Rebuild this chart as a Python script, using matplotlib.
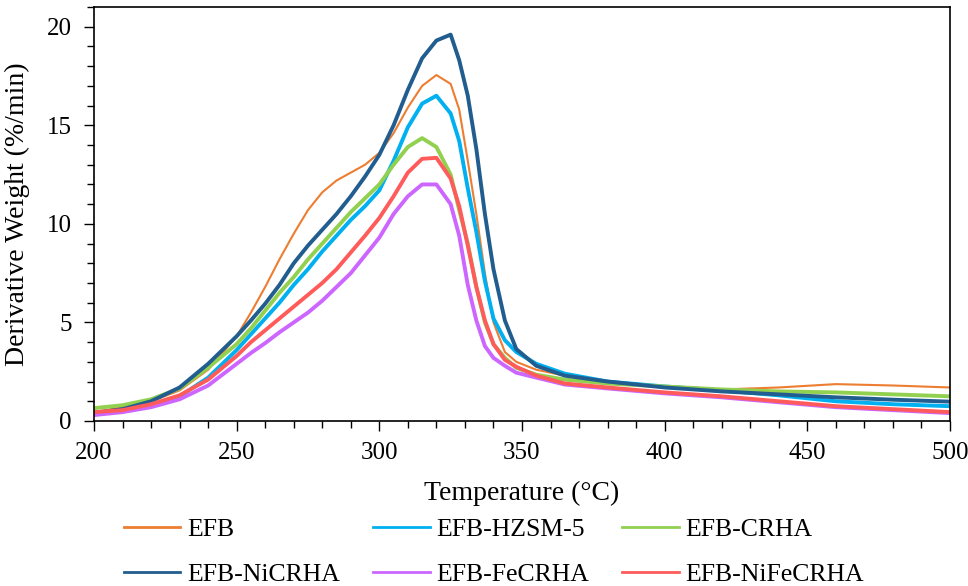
import matplotlib
matplotlib.use('Agg')
from matplotlib import pyplot as plt
from matplotlib.ticker import MultipleLocator

plt.rcParams['font.family'] = ['Liberation Serif', 'DejaVu Serif']

temp = [200, 210, 220, 230, 240, 250, 255, 260, 265, 270, 275, 280, 285, 290, 295, 300, 305, 310, 315, 320,
        325, 328, 331, 334, 337, 340, 344, 348, 355, 365, 380, 400, 420, 440, 460, 480, 500]

# derivative weight (%/min)
efb = [0.45, 0.7, 1.0, 1.55, 2.6, 4.3, 5.5, 6.8, 8.2, 9.5, 10.7, 11.6, 12.2, 12.6, 13.0, 13.6, 14.6, 15.9, 17.0, 17.55,
       17.1, 15.8, 13.2, 10.5, 7.5, 5.0, 3.5, 3.0, 2.6, 2.3, 2.0, 1.75, 1.6, 1.7, 1.87, 1.8, 1.7]
efb_hzsm5 = [0.35, 0.5, 0.8, 1.25, 2.2, 3.6, 4.4, 5.2, 6.0, 6.9, 7.7, 8.6, 9.4, 10.2, 10.9, 11.7, 13.2, 14.9, 16.1, 16.5,
             15.6, 14.2, 11.8, 9.6, 7.1, 5.2, 4.1, 3.5, 2.9, 2.4, 2.0, 1.75, 1.55, 1.3, 1.0, 0.85, 0.75]
efb_crha = [0.65, 0.8, 1.1, 1.65, 2.7, 3.9, 4.7, 5.6, 6.5, 7.3, 8.2, 9.0, 9.8, 10.6, 11.3, 12.0, 13.0, 13.9, 14.35, 13.9,
            12.5, 10.7, 9.0, 6.8, 5.0, 3.9, 3.2, 2.7, 2.35, 2.1, 1.9, 1.75, 1.6, 1.5, 1.45, 1.35, 1.25]
efb_nicrha = [0.4, 0.6, 1.0, 1.7, 2.9, 4.3, 5.1, 5.95, 6.9, 8.0, 8.9, 9.7, 10.5, 11.4, 12.4, 13.5, 15.0, 16.8, 18.4, 19.3,
              19.6, 18.3, 16.5, 13.8, 10.5, 7.7, 5.1, 3.65, 2.8, 2.3, 2.0, 1.7, 1.5, 1.35, 1.2, 1.08, 0.98]
efb_fecrha = [0.3, 0.45, 0.7, 1.1, 1.8, 2.9, 3.45, 3.95, 4.5, 5.0, 5.5, 6.1, 6.8, 7.5, 8.4, 9.3, 10.5, 11.4, 12.0, 12.0,
              11.0, 9.4, 6.9, 5.1, 3.8, 3.2, 2.8, 2.45, 2.2, 1.85, 1.65, 1.4, 1.2, 0.95, 0.7, 0.55, 0.4]
efb_nifecrha = [0.45, 0.55, 0.85, 1.3, 2.1, 3.3, 4.0, 4.6, 5.2, 5.8, 6.4, 7.0, 7.7, 8.55, 9.4, 10.3, 11.4, 12.6, 13.3, 13.35,
                12.3, 10.9, 8.9, 6.8, 5.1, 3.9, 3.1, 2.75, 2.3, 1.9, 1.7, 1.45, 1.25, 1.0, 0.75, 0.6, 0.45]

series = [
    ('EFB', efb, '#ED7D31', 1.5),
    ('EFB-HZSM-5', efb_hzsm5, '#00B0F0', 2.8),
    ('EFB-CRHA', efb_crha, '#92D050', 2.8),
    ('EFB-NiCRHA', efb_nicrha, '#215D8F', 2.8),
    ('EFB-FeCRHA', efb_fecrha, '#CC66FF', 2.8),
    ('EFB-NiFeCRHA', efb_nifecrha, '#FF5B5B', 2.8),
]

fig = plt.figure(figsize=(9.68, 5.86), dpi=100)
ax = fig.add_axes([0.0971, 0.2816, 0.8843, 0.7064])

for name, vals, col, lw in series:
    ax.plot(temp, vals, color=col, linewidth=lw, solid_joinstyle='round')

ax.set_xlim(200, 500)
ax.set_ylim(0, 21)
ax.xaxis.set_major_locator(MultipleLocator(50))
ax.xaxis.set_minor_locator(MultipleLocator(10))
ax.yaxis.set_major_locator(MultipleLocator(5))
ax.yaxis.set_minor_locator(MultipleLocator(1))
ax.tick_params(which='major', direction='out', length=7, width=1, labelsize=18, pad=8)
ax.tick_params(which='minor', direction='out', length=5, width=1)
ax.tick_params(axis='y', which='major', pad=9)
for s in ax.spines.values():
    s.set_linewidth(1.2)

ax.set_xlabel('Temperature (°C)', fontsize=20, labelpad=12)
ax.set_ylabel('Derivative Weight (%/min)', fontsize=20, labelpad=12)

# legend: 2 rows x 3 cols filled row by row (matplotlib fills by column)
hs = [plt.Line2D([], [], color=c, linewidth=2) for _, _, c, _ in series]
names = [s[0] for s in series]
order = [0, 3, 1, 4, 2, 5]
fig.legend([hs[i] for i in order], [names[i] for i in order], ncol=3, loc='upper left',
           bbox_to_anchor=(0.128, 0.116), frameon=False, fontsize=18.5,
           handlelength=2.2, handletextpad=0.25, columnspacing=1.3,
           labelspacing=0.84, borderaxespad=0, borderpad=0)

plt.savefig('out.png', dpi=100)
